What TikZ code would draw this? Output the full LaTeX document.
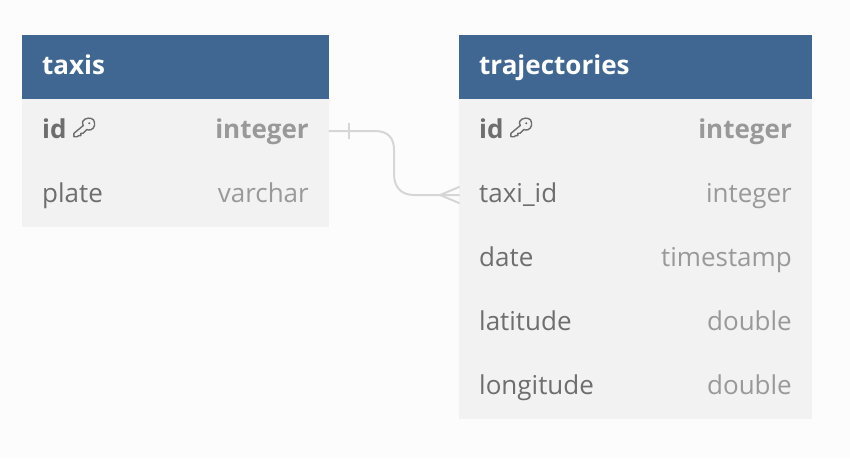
\documentclass[tikz,border=0pt]{standalone}
\usepackage{fontspec}
\setmainfont{Open Sans}
\definecolor{hdr}{HTML}{406792}
\definecolor{rowbg}{HTML}{F2F2F2}
\definecolor{pagebg}{HTML}{FCFCFC}
\definecolor{nametxt}{HTML}{6E6E6E}
\definecolor{typetxt}{HTML}{999999}
\definecolor{linkc}{HTML}{D6D6D6}
\tikzset{
  x=1pt,y=-1pt,
  hdrbox/.style={fill=hdr,draw=none,inner sep=0,anchor=north west,minimum height=64pt},
  rowbox/.style={fill=rowbg,draw=none,inner sep=0,anchor=north west,minimum height=64pt},
  title/.style={font=\fontsize{26}{30}\selectfont\bfseries,text=white,anchor=base west,inner sep=0},
  fname/.style={font=\fontsize{26}{30}\selectfont,text=nametxt,anchor=base west,inner sep=0},
  ftype/.style={font=\fontsize{26}{30}\selectfont,text=typetxt,anchor=base east,inner sep=0},
  keyname/.style={fname,font=\fontsize{26}{30}\selectfont\bfseries},
  keytype/.style={ftype,font=\fontsize{26}{30}\selectfont\bfseries},
  link/.style={draw=linkc,line width=2pt,line cap=round},
  keyicon/.style={draw=nametxt,line width=1.4pt,line join=round},
}
\newcommand{\keyglyph}[2]{%
  \begin{scope}[shift={(#1,#2)},scale=1.3]
    \draw[keyicon] (5.2,-7.5) .. controls (7,-10.5) and (12,-10.5) .. (13.5,-8.5)
      .. controls (15,-6) and (14.5,-2) .. (11.5,-1) .. controls (10,-0.5) and (9,-0.7) .. (8.4,-1.2)
      -- (5.5,1.7) -- (3.7,1.7) -- (3.7,3.6) -- (1.8,3.6) -- (1.0,4.4) -- (-1.6,4.4) -- (-1.6,1.8)
      -- (5.6,-4.2) .. controls (5,-5.2) and (4.8,-6.5) .. (5.2,-7.5) -- cycle;
    \fill[nametxt] (10.2,-6) circle (0.9pt);
  \end{scope}}
\begin{document}
\begin{tikzpicture}
\useasboundingbox (0,0) rectangle (850,458);
\fill[pagebg] (0,0) rectangle (850,458);
% taxis
\node[hdrbox,minimum width=307pt] (taxisH) at (22,35) {};
\node[rowbox,minimum width=307pt] (taxisId) at (22,99) {};
\node[rowbox,minimum width=307pt] (taxisPlate) at (22,163) {};
\node[title] (taxisT) at (42,74) {taxis};
\node[keyname] (taxisIdN) at (42,138) {id};
\node[keytype] (taxisIdY) at (309,138) {integer};
\node[fname] (taxisPlateN) at (42,202) {plate};
\node[ftype] (taxisPlateY) at (309,202) {varchar};
\keyglyph{76}{131}
% trajectories
\node[hdrbox,minimum width=353pt] (trajH) at (459,35) {};
\node[rowbox,minimum width=353pt] (trajId) at (459,99) {};
\node[rowbox,minimum width=353pt] (trajTaxi) at (459,163) {};
\node[rowbox,minimum width=353pt] (trajDate) at (459,227) {};
\node[rowbox,minimum width=353pt] (trajLat) at (459,291) {};
\node[rowbox,minimum width=353pt] (trajLon) at (459,355) {};
\node[title] (trajT) at (479,74) {trajectories};
\node[keyname] (trajIdN) at (479,138) {id};
\node[keytype] (trajIdY) at (792,138) {integer};
\node[fname] (trajTaxiN) at (479,202) {taxi\_id};
\node[ftype] (trajTaxiY) at (792,202) {integer};
\node[fname] (trajDateN) at (479,266) {date};
\node[ftype] (trajDateY) at (792,266) {timestamp};
\node[fname] (trajLatN) at (479,330) {latitude};
\node[ftype] (trajLatY) at (792,330) {double};
\node[fname] (trajLonN) at (479,394) {longitude};
\node[ftype] (trajLonY) at (792,394) {double};
\keyglyph{513}{131}
% connector
\coordinate (a) at (taxisId.east);
\coordinate (b) at (trajTaxi.west);
\draw[link] (a) -- (375,131) .. controls (388,131) and (394,138) .. (394,150)
  -- (394,174) .. controls (394,187) and (401,195) .. (414,195) -- (b);
\draw[link] (349,123.5) -- (349,138.5);
\draw[link] (440,195) -- (459,187);
\draw[link] (440,195) -- (459,203);
\end{tikzpicture}
\end{document}
